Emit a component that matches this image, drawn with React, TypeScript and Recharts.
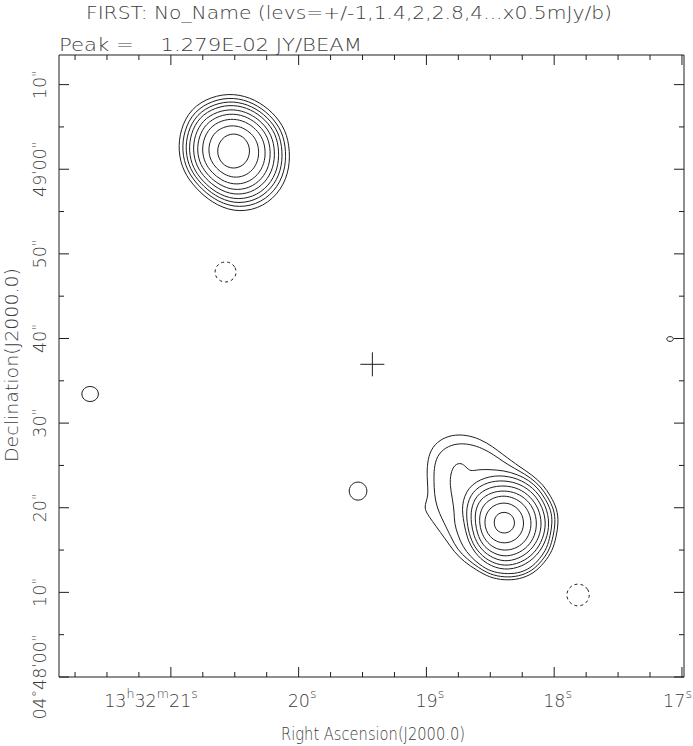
import React from 'react';
import { ScatterChart, Scatter, XAxis, YAxis } from 'recharts';

const TITLE = 'FIRST: No_Name (levs=+/-1,1.4,2,2.8,4...x0.5mJy/b)';
const PEAK = 'Peak =    1.279E-02 JY/BEAM';
const X_TITLE = 'Right Ascension(J2000.0)';
const Y_TITLE = 'Declination(J2000.0)';

// x: RA seconds past 13h32m, y: Dec arcsec above +04d48'00"
const raDomain: [number, number] = [16.984, 21.8755];
const decDomain: [number, number] = [0, 73.5];
const raTicks = [17, 17.25, 17.5, 17.75, 18, 18.25, 18.5, 18.75, 19, 19.25, 19.5, 19.75, 20, 20.25, 20.5, 20.75, 21, 21.25, 21.5, 21.75];
const raLabels: Record<string, string> = { '21': '13h32m21s', '20': '20s', '19': '19s', '18': '18s', '17': '17s' };
const decTicks = [0, 5, 10, 15, 20, 25, 30, 35, 40, 45, 50, 55, 60, 65, 70];
const decLabels: Record<string, string> = {
  '0': '04°48\'00"', '10': '10"', '20': '20"', '30': '30"', '40': '40"', '50': '50"', '60': '49\'00"', '70': '10"',
};

const ARCSEC_PER_SEC = 14.947;

type Pt = { ra: number; dec: number };

// northern source: radii (arcsec) every 22.5 deg, outermost level first
const northCentre: Pt = { ra: 20.509, dec: 62.15 };
const northLevels: number[][] = [
  [6.62, 6.62, 6.5, 6.62, 6.86, 6.98, 7.1, 6.74, 6.5, 6.38, 6.26, 6.62, 7.22, 7.47, 7.34, 6.98],
  [6.17, 6.17, 6.06, 6.17, 6.39, 6.49, 6.6, 6.28, 6.06, 5.95, 5.84, 6.17, 6.71, 6.93, 6.82, 6.49],
  [5.75, 5.75, 5.66, 5.75, 5.95, 6.04, 6.14, 5.85, 5.66, 5.56, 5.46, 5.75, 6.24, 6.43, 6.33, 6.04],
  [5.35, 5.35, 5.26, 5.35, 5.52, 5.6, 5.69, 5.43, 5.26, 5.18, 5.1, 5.35, 5.77, 5.94, 5.86, 5.6],
  [4.85, 4.85, 4.78, 4.85, 5.0, 5.07, 5.14, 4.93, 4.78, 4.71, 4.64, 4.85, 5.22, 5.36, 5.29, 5.07],
  [4.35, 4.35, 4.29, 4.35, 4.47, 4.53, 4.59, 4.41, 4.29, 4.23, 4.17, 4.35, 4.66, 4.78, 4.72, 4.53],
  [3.75, 3.75, 3.7, 3.75, 3.85, 3.9, 3.94, 3.8, 3.7, 3.65, 3.61, 3.75, 3.99, 4.09, 4.04, 3.9],
  [2.98, 2.98, 2.95, 2.98, 3.06, 3.09, 3.13, 3.02, 2.95, 2.91, 2.88, 2.98, 3.17, 3.24, 3.2, 3.09],
  [1.9, 1.92, 1.98, 2.04, 2.07, 2.04, 1.98, 1.92, 1.9, 1.92, 1.98, 2.04, 2.07, 2.04, 1.98, 1.92],
];

// southern source: outer three levels as [angle deg, radius arcsec] (they carry the NE lobe)
const southCentre: Pt = { ra: 18.392, dec: 18.2 };
const southOuter: number[][][] = [
  [[0, 6.37], [15, 6.43], [30, 6.31], [45, 6.43], [60, 6.55], [75, 6.9], [90, 7.97], [105, 10.47], [120, 12.38], [135, 12.62],
    [150, 10.47], [160, 9.34], [169, 9.64], [175, 8.81], [183, 7.97], [195, 7.14], [210, 6.78], [225, 6.55], [240, 6.43],
    [255, 6.66], [270, 6.78], [285, 6.9], [300, 6.9], [315, 6.66], [330, 6.55], [345, 6.31]],
  [[0, 6.01], [15, 6.07], [30, 5.95], [45, 6.07], [60, 6.19], [75, 6.43], [90, 7.14], [105, 9.28], [120, 11.19], [135, 11.55],
    [150, 9.52], [165, 8.33], [180, 7.02], [195, 6.43], [210, 6.31], [225, 6.07], [240, 6.07], [255, 6.31], [270, 6.43],
    [285, 6.55], [300, 6.55], [315, 6.31], [330, 6.19], [345, 5.95]],
  [[0, 5.65], [15, 5.71], [30, 5.59], [45, 5.71], [60, 5.83], [75, 5.95], [90, 6.19], [105, 6.55], [116, 7.02], [123, 7.26],
    [124, 7.97], [125, 8.69], [130, 9.04], [137, 8.57], [145, 7.74], [155, 6.66], [168, 5.95], [180, 5.83], [195, 5.59],
    [210, 5.59], [225, 5.59], [240, 5.71], [255, 5.95], [270, 6.01], [285, 6.19], [300, 6.19], [315, 5.95], [330, 5.83], [345, 5.59]],
];
const southInner: number[][] = [
  [5.34, 5.31, 5.37, 5.49, 5.67, 5.91, 6.03, 5.43, 4.7, 4.7, 4.94, 5.31, 5.63, 5.61, 5.49, 5.37],
  [4.94, 4.88, 4.94, 5.0, 5.07, 5.25, 5.31, 4.82, 4.34, 4.34, 4.58, 4.88, 5.15, 5.13, 5.07, 4.94],
  [4.43, 4.4, 4.4, 4.46, 4.46, 4.58, 4.64, 4.22, 3.86, 3.86, 4.1, 4.34, 4.62, 4.58, 4.52, 4.46],
  [3.86, 3.86, 3.86, 3.86, 3.86, 3.92, 3.98, 3.68, 3.38, 3.38, 3.62, 3.8, 4.02, 3.98, 3.98, 3.92],
  [3.22, 3.2, 3.2, 3.2, 3.26, 3.26, 3.26, 3.08, 2.89, 2.89, 3.02, 3.2, 3.29, 3.32, 3.32, 3.26],
  [2.33, 2.33, 2.35, 2.39, 2.41, 2.41, 2.41, 2.35, 2.29, 2.29, 2.33, 2.38, 2.41, 2.41, 2.39, 2.35],
  [1.24, 1.25, 1.27, 1.28, 1.29, 1.28, 1.27, 1.22, 1.17, 1.18, 1.21, 1.21, 1.21, 1.22, 1.23, 1.24],
];

// isolated single-level blobs (dashed = negative level)
const blobs: { centre: Pt; radii: number[]; dashed: boolean }[] = [
  { centre: { ra: 20.572, dec: 47.86 }, radii: [1.29, 1.28, 1.25, 1.23, 1.25, 1.28, 1.29, 1.28, 1.25, 1.23, 1.25, 1.28], dashed: true },
  { centre: { ra: 21.632, dec: 33.44 }, radii: [1.02, 1.0, 0.95, 0.92, 0.95, 1.0, 1.02, 1.0, 0.95, 0.92, 0.95, 1.0], dashed: false },
  { centre: { ra: 19.535, dec: 21.98 }, radii: [1.08, 1.09, 1.1, 1.11, 1.1, 1.09, 1.08, 1.09, 1.12, 1.14, 1.12, 1.09], dashed: false },
  { centre: { ra: 17.813, dec: 9.69 }, radii: [1.37, 1.36, 1.35, 1.34, 1.35, 1.36, 1.37, 1.36, 1.35, 1.34, 1.35, 1.36], dashed: true },
  { centre: { ra: 17.093, dec: 39.94 }, radii: [0.4, 0.38, 0.32, 0.28, 0.32, 0.38, 0.4, 0.38, 0.32, 0.28, 0.32, 0.38], dashed: false },
];

const crossPos: Pt[] = [{ ra: 19.423, dec: 36.95 }];

const FONT = "'DejaVu Sans', 'Liberation Sans', sans-serif";
const WEIGHT = 200;
const INK = '#3c3c3c';
const LINE = '#1e1e1e';

const polar = (c: Pt, deg: number, r: number): Pt => {
  const a = (deg * Math.PI) / 180;
  return { ra: c.ra - (r * Math.cos(a)) / ARCSEC_PER_SEC, dec: c.dec + r * Math.sin(a) };
};
const fromRadii = (c: Pt, radii: number[]) => radii.map((r, i) => polar(c, (i * 360) / radii.length, r));
const fromPairs = (c: Pt, pairs: number[][]) => pairs.map(([a, r]) => polar(c, a, r));

const rings: { pts: Pt[]; dashed: boolean }[] = [
  ...northLevels.map((r) => ({ pts: fromRadii(northCentre, r), dashed: false })),
  ...southOuter.map((p) => ({ pts: fromPairs(southCentre, p), dashed: false })),
  ...southInner.map((r) => ({ pts: fromRadii(southCentre, r), dashed: false })),
  ...blobs.map((b) => ({ pts: fromRadii(b.centre, b.radii), dashed: b.dashed })),
];

// digits normal, unit marks raised
const runs = (label: string, size: number, raise: number, supScale: number) => {
  const parts = label.match(/\d+|\D+/g) || [];
  let up = false;
  return parts.map((p, i) => {
    const sup = !/\d/.test(p);
    const dy = sup === up ? 0 : sup ? -raise : raise;
    up = sup;
    return (
      <tspan key={i} dy={dy} fontSize={sup ? size * supScale : size}>
        {p}
      </tspan>
    );
  });
};

const RaTick = (props: any) => {
  const { x, y, payload, side } = props;
  const v = Number(payload.value);
  const whole = Math.round(v);
  const major = Math.abs(v - whole) < 1e-6;
  const dir = side === 'top' ? 1 : -1;
  const label = side === 'bottom' && major ? raLabels[String(whole)] : undefined;
  let tx = x - 11;
  let anchor = 'start';
  if (whole === 21) { tx = x + 27; anchor = 'end'; }
  if (whole === 17) { tx = x + 10; anchor = 'end'; }
  return (
    <g>
      <line x1={x} x2={x} y1={y} y2={y + dir * (major ? 10 : 5)} stroke={LINE} />
      {label && (
        <text x={tx} y={y + 30} textAnchor={anchor} fontFamily={FONT} fontWeight={WEIGHT} fontSize={17.5} fill={INK}>
          {runs(label, 17.5, 9, 0.72)}
        </text>
      )}
    </g>
  );
};

const DecTick = (props: any) => {
  const { x, y, payload, side } = props;
  const v = Number(payload.value);
  const major = v % 10 === 0;
  const dir = side === 'left' ? 1 : -1;
  const label = side === 'left' && major ? decLabels[String(v)] : undefined;
  const tx = x - 13;
  return (
    <g>
      <line x1={x} x2={x + dir * (major ? 10 : 5)} y1={y} y2={y} stroke={LINE} />
      {label && (
        <text x={tx} y={y} transform={`rotate(-90 ${tx} ${y})`} textAnchor="middle" fontFamily={FONT} fontWeight={WEIGHT}
          fontSize={17.5} fill={INK}>
          {runs(label, 17.5, 4, 0.85)}
        </text>
      )}
    </g>
  );
};

const NoDot = () => <g />;

const CrossShape = (props: any) => {
  const { cx, cy } = props;
  return <path d={`M${cx - 12},${cy}H${cx + 12}M${cx},${cy - 12}V${cy + 12}`} stroke={LINE} strokeWidth={1} fill="none" />;
};

export default function App() {
  return (
    <div style={{ position: 'absolute', left: 0, top: 0, width: 693, height: 746, background: '#fff' }}>
      <ScatterChart width={693} height={746} margin={{ top: 54, right: 8, bottom: 68, left: 58 }}>
        <XAxis xAxisId="bottom" type="number" dataKey="ra" domain={raDomain} reversed allowDataOverflow
          ticks={raTicks} interval={0} tick={<RaTick side="bottom" />} tickLine={false} tickSize={0} tickMargin={0}
          height={1} axisLine={{ stroke: LINE }} />
        <XAxis xAxisId="top" orientation="top" type="number" dataKey="ra" domain={raDomain} reversed allowDataOverflow
          ticks={raTicks} interval={0} tick={<RaTick side="top" />} tickLine={false} tickSize={0} tickMargin={0}
          height={1} axisLine={{ stroke: LINE }} />
        <YAxis yAxisId="left" type="number" dataKey="dec" domain={decDomain} allowDataOverflow
          ticks={decTicks} interval={0} tick={<DecTick side="left" />} tickLine={false} tickSize={0} tickMargin={0}
          width={1} axisLine={{ stroke: LINE }} />
        <YAxis yAxisId="right" orientation="right" type="number" dataKey="dec" domain={decDomain} allowDataOverflow
          ticks={decTicks} interval={0} tick={<DecTick side="right" />} tickLine={false} tickSize={0} tickMargin={0}
          width={1} axisLine={{ stroke: LINE }} />
        {rings.map((ring, i) => (
          <Scatter key={i} xAxisId="bottom" yAxisId="left" data={ring.pts} fill={LINE}
            line={{ stroke: LINE, strokeWidth: 1, strokeDasharray: ring.dashed ? '3 3' : undefined }}
            lineType="joint" lineJointType="basisClosed" shape={NoDot} isAnimationActive={false} />
        ))}
        <Scatter xAxisId="top" yAxisId="right" data={crossPos} shape={CrossShape} isAnimationActive={false} />
      </ScatterChart>
      <svg width={693} height={746} style={{ position: 'absolute', left: 0, top: 0, pointerEvents: 'none' }}>
        <g fontFamily={FONT} fontWeight={WEIGHT} fontSize={17.5} fill={INK}>
          <text x={349} y={19} textAnchor="middle" textLength={526} lengthAdjust="spacingAndGlyphs">{TITLE}</text>
          <text x={59} y={51} textLength={303} lengthAdjust="spacingAndGlyphs" style={{ whiteSpace: 'pre' }}>{PEAK}</text>
          <text x={373} y={740} textAnchor="middle" textLength={184} lengthAdjust="spacingAndGlyphs">{X_TITLE}</text>
          <text x={18} y={365} transform="rotate(-90 18 365)" textAnchor="middle" textLength={194} lengthAdjust="spacingAndGlyphs">{Y_TITLE}</text>
        </g>
      </svg>
    </div>
  );
}
